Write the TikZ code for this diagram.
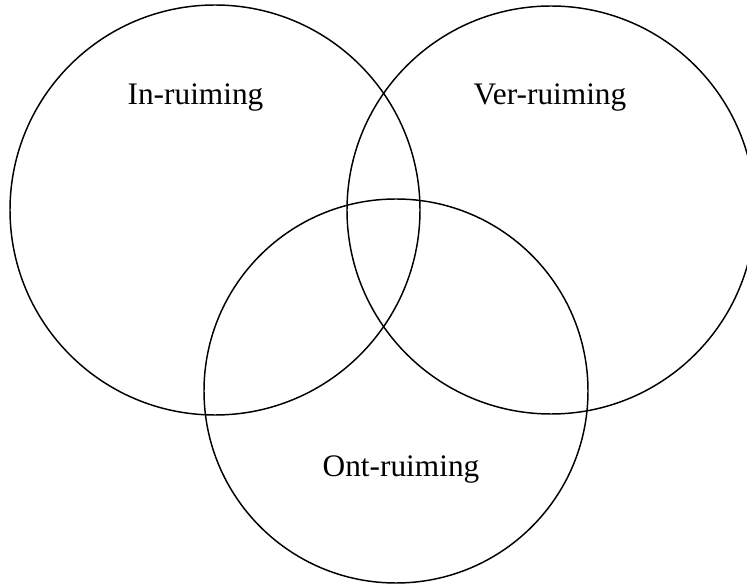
\documentclass[tikz,border=0pt]{standalone}
\usepackage{fontspec}
\setmainfont{Liberation Serif}
\begin{document}
\begin{tikzpicture}[x=0.75pt, y=-0.75pt,
        ring/.style={draw=black, line width=1.1pt},
        lbl/.style={anchor=base, inner sep=0pt, font=\fontsize{23.5}{28}\selectfont}]
        % --- 描画範囲 ---
        \useasboundingbox (0,0) rectangle (747,584);

        % --- 円の中心 ---
        \coordinate (in)  at (215,210);
        \coordinate (ver) at (551,210);
        \coordinate (ont) at (396,391);

        % --- 円 ---
        \foreach \c/\r in {in/205, ver/204, ont/192} {
            \draw[ring] (\c) circle[radius=\r];
        }

        % --- ラベル ---
        \node[lbl] (inlbl)  at (195.5,105) {In-ruiming};
        \node[lbl] (verlbl) at (550,105)   {Ver-ruiming};
        \node[lbl] (ontlbl) at (401,477)   {Ont-ruiming};
    \end{tikzpicture}
\end{document}
